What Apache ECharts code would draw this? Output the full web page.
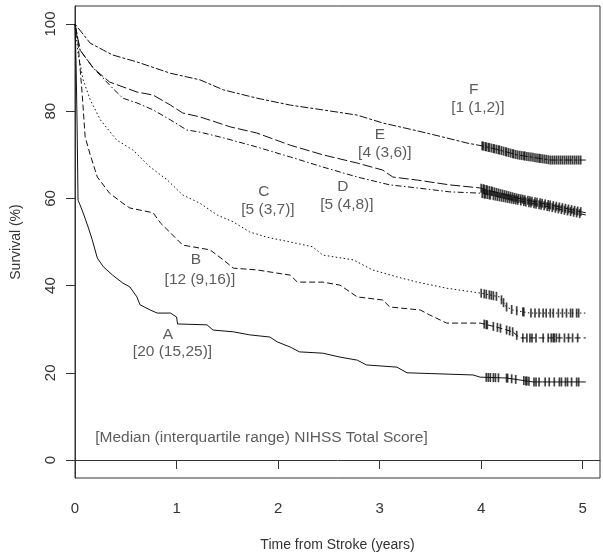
<!DOCTYPE html>
<html>
<head>
<meta charset="utf-8">
<script src="https://cdn.jsdelivr.net/npm/echarts@6/dist/echarts.min.js"></script>
<style>
html,body{margin:0;padding:0;background:#fff;}
#c{width:603px;height:557px;}
</style>
</head>
<body>
<div id="c"></div>
<script>
// ---- data ----
var xTicks = [0, 1, 2, 3, 4, 5];
var yTicks = [0, 20, 40, 60, 80, 100];

var timeA = [0,0.01,0.02,0.03,0.05,0.08,0.13,0.17,0.22,0.28,0.37,0.47,0.54,0.61,0.64,0.74,0.81,0.94,1.00,1.01,1.30,1.36,1.56,1.72,1.92,1.99,2.12,2.21,2.44,2.61,2.78,2.87,3.17,3.27,3.92,3.99,4.25,4.51,5.03];
var survA = [100,91.7,78,59.6,58.5,56.7,53.4,50.5,46.3,44.3,42.4,40.6,39.7,37.4,35.6,34.4,33.7,33.7,32.8,31.2,31.0,29.8,29.4,28.7,28.2,27.1,25.9,24.8,24.5,23.6,22.9,21.8,21.3,20.0,19.5,19.0,18.8,17.9,17.9];

var timeB = [0,0.03,0.07,0.10,0.15,0.22,0.34,0.47,0.54,0.77,0.84,0.94,1.06,1.23,1.33,1.46,1.56,1.79,2.12,2.19,2.44,2.61,2.78,3.03,3.10,3.40,3.49,3.66,3.99,4.18,4.31,4.38,5.03];
var survB = [100,95.6,84.2,74.1,70.0,64.9,61.2,58.9,57.8,56.7,54.4,52.1,49.3,48.6,48.2,45.9,44.0,43.6,42.4,40.8,40.8,40.1,37.4,36.7,35.1,34.4,33.3,31.4,31.4,30.3,29.4,28.0,28.0];

var timeC = [0,0.03,0.08,0.15,0.25,0.41,0.57,0.74,0.91,1.06,1.23,1.40,1.56,1.72,1.89,2.12,2.34,2.44,2.74,2.93,3.17,3.37,3.66,3.99,4.18,4.25,4.31,4.48,5.03];
var survC = [100,93.3,87.2,82.6,78.0,73.4,71.1,67.2,64.2,60.8,58.9,56.2,54.6,52.3,51.1,50.0,48.9,47.0,45.9,43.6,42.0,40.8,39.4,38.3,37.4,35.1,34.4,33.7,33.7];

var timeD = [0,0.05,0.18,0.37,0.47,0.61,0.77,0.94,1.10,1.23,1.46,1.79,2.12,2.44,2.78,3.10,3.37,3.69,3.99,4.35,4.68,5.03];
var survD = [100,94.0,89.9,85.3,83.0,81.9,80.3,78.0,75.7,75.2,73.9,71.8,69.5,67.2,64.9,63.1,62.4,61.5,61.2,59.6,58.0,56.2];

var timeE = [0,0.05,0.18,0.34,0.61,0.77,0.94,1.06,1.23,1.53,1.79,2.12,2.44,2.78,3.03,3.13,3.37,3.69,3.99,4.35,4.68,5.03];
var survE = [100,94.0,89.9,86.7,84.4,83.7,81.4,79.6,78.7,76.4,75.0,72.2,70.0,68.1,66.5,64.9,64.2,63.1,62.4,60.1,58.5,56.7];

var timeF = [0,0.15,0.28,0.37,0.61,0.94,1.23,1.46,1.79,2.12,2.44,2.78,3.03,3.37,3.62,3.86,4.02,4.18,4.35,4.68,5.03];
var survF = [100,95.6,94.0,92.9,91.3,88.7,87.2,84.9,83.0,81.4,80.3,79.1,77.3,75.5,74.1,72.7,72.0,71.1,70.0,68.8,68.8];

// censoring times (years)
var censA = [4.05,4.07,4.09,4.12,4.14,4.17,4.25,4.26,4.30,4.34,4.42,4.44,4.45,4.47,4.52,4.54,4.57,4.63,4.67,4.72,4.77,4.79,4.83,4.85,4.89,4.94,4.96];
var censB = [4.03,4.05,4.06,4.12,4.16,4.19,4.25,4.28,4.31,4.35,4.41,4.45,4.48,4.50,4.54,4.61,4.66,4.69,4.71,4.72,4.74,4.77,4.82,4.86,4.90,4.95];
var censC = [4.00,4.03,4.05,4.08,4.10,4.12,4.15,4.20,4.22,4.25,4.30,4.35,4.41,4.42,4.49,4.53,4.57,4.61,4.64,4.68,4.71,4.76,4.80,4.84,4.88,4.90,4.94,4.96];
var censD = [4.01,4.03,4.04,4.06,4.08,4.09,4.12,4.14,4.16,4.18,4.20,4.22,4.24,4.26,4.28,4.30,4.32,4.34,4.36,4.39,4.42,4.44,4.47,4.49,4.52,4.54,4.57,4.59,4.62,4.65,4.67,4.70,4.73,4.76,4.79,4.82,4.85,4.88,4.91,4.94,4.97];
var censE = [4.00,4.02,4.03,4.05,4.06,4.08,4.10,4.11,4.13,4.15,4.17,4.19,4.21,4.23,4.25,4.27,4.29,4.31,4.33,4.35,4.37,4.39,4.41,4.43,4.46,4.48,4.50,4.53,4.55,4.58,4.60,4.63,4.66,4.68,4.71,4.74,4.77,4.80,4.83,4.86,4.89,4.92,4.95,4.98];
var censF = [4.01,4.02,4.04,4.05,4.07,4.08,4.10,4.12,4.13,4.15,4.17,4.18,4.20,4.22,4.24,4.25,4.27,4.29,4.31,4.32,4.34,4.36,4.38,4.40,4.42,4.43,4.45,4.47,4.49,4.51,4.53,4.55,4.57,4.58,4.60,4.62,4.64,4.66,4.68,4.70,4.72,4.74,4.76,4.78,4.80,4.82,4.84,4.86,4.88,4.90,4.92,4.94,4.96,4.98];

var groupNames = ['A','B','C','D','E','F'];
var groupScores = ['[20 (15,25)]','[12 (9,16)]','[5 (3,7)]','[5 (4,8)]','[4 (3,6)]','[1 (1,2)]'];
var noteText = '[Median (interquartile range) NIHSS Total Score]';

// ---- layout / style (not data) ----
var letterPos = [[0.915,28.7],[1.191,45.9],[1.860,61.5],[2.638,62.6],[3.002,74.5],[3.927,84.9]];
var scorePos  = [[0.960,24.8],[1.230,41.3],[1.900,57.3],[2.677,58.5],[3.051,70.4],[3.967,80.7]];
var notePos = [1.836,5.05];
var dashes = ['solid',[6,3],[1.5,2.5],[1.5,2.5,6,2.5],[10,3],[3,2,8,2]];
var FONT = 'Liberation Sans, Arial, sans-serif';
var TXT = '#333';

var times = [timeA,timeB,timeC,timeD,timeE,timeF];
var survs = [survA,survB,survC,survD,survE,survF];
var cens = [censA,censB,censC,censD,censE,censF];

function survAt(ts, vs, t){
  for (var i=1;i<ts.length;i++){
    if (t<=ts[i]){
      var f=(t-ts[i-1])/(ts[i]-ts[i-1]);
      return vs[i-1]+f*(vs[i]-vs[i-1]);
    }
  }
  return vs[vs.length-1];
}

var series = [];
for (var g=0; g<6; g++){
  series.push({
    type:'line', name: groupNames[g], showSymbol:false, symbol:'none',
    data: times[g].map(function(t,i){return [t, survs[g][i]];}),
    lineStyle:{color:'#111', width:1, type:dashes[g]},
    silent:true, z:2
  });
  (function(gg){
    series.push({
      type:'scatter', symbol:'rect', symbolSize:[1.7,9],
      data: cens[gg].map(function(t){return [t, survAt(times[gg], survs[gg], t)];}),
      itemStyle:{color:'#111'}, silent:true, z:3
    });
  })(g);
}
var annData = [];
for (var k=0;k<6;k++){
  annData.push({value:letterPos[k], name:groupNames[k]});
  annData.push({value:scorePos[k], name:groupScores[k]});
}
annData.push({value:notePos, name:noteText});
series.push({
  type:'scatter', symbolSize:0, silent:true, z:5,
  data: annData,
  label:{show:true, position:'inside', formatter:function(p){return p.name;}, color:TXT, fontSize:15.5, fontFamily:FONT}
});

var chart = echarts.init(document.getElementById('c'), null, {renderer:'canvas'});
chart.setOption({
  animation:false,
  backgroundColor:'#fff',
  grid:{left:75, top:6, width:525, height:472, show:true, borderColor:'#333', borderWidth:1, backgroundColor:'transparent'},
  xAxis:{
    type:'value', min:0, max:5.17,
    name:'Time from Stroke (years)', nameLocation:'middle', nameGap:60,
    nameTextStyle:{color:TXT, fontSize:14, fontFamily:FONT},
    axisLine:{show:true, lineStyle:{color:'#333'}},
    axisTick:{show:true, length:9, lineStyle:{color:'#333'}, customValues:xTicks},
    axisLabel:{color:TXT, fontSize:15, fontFamily:FONT, margin:23, customValues:xTicks},
    splitLine:{show:false}
  },
  yAxis:{
    type:'value', min:-4.13, max:104.13,
    name:'Survival (%)', nameLocation:'middle', nameGap:52, nameRotate:90,
    nameTextStyle:{color:TXT, fontSize:14, fontFamily:FONT},
    axisLine:{show:true, lineStyle:{color:'#333'}},
    axisTick:{show:true, length:9, lineStyle:{color:'#333'}, customValues:yTicks},
    axisLabel:{color:TXT, fontSize:15, fontFamily:FONT, margin:17, rotate:90, customValues:yTicks},
    splitLine:{show:false}
  },
  series: series
});
</script>
</body>
</html>
